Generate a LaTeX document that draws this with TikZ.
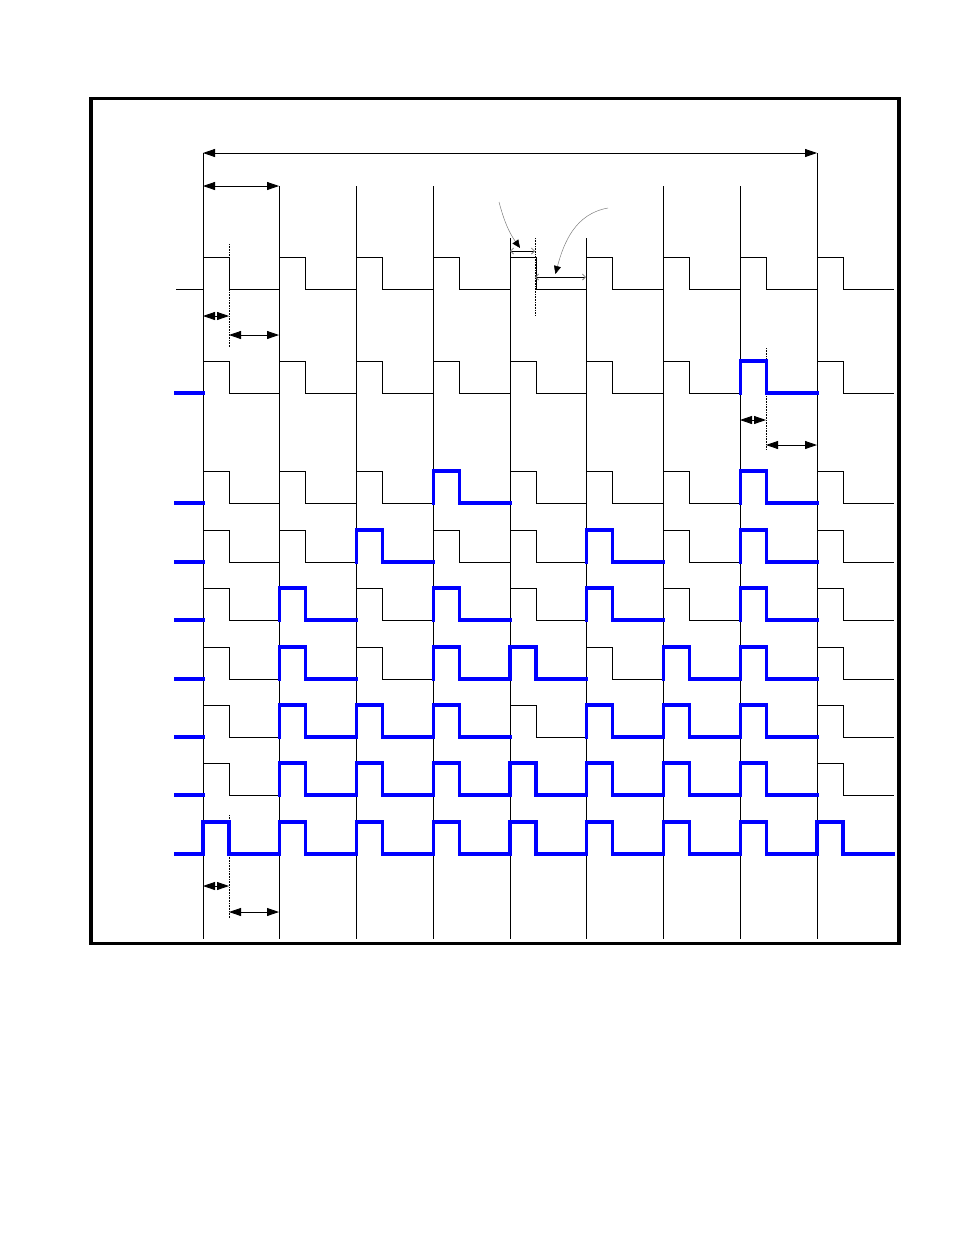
\documentclass[tikz,border=0pt]{standalone}
\usepackage{tikz}
\usetikzlibrary{calc, arrows.meta}
\tikzset{
    frame/.style={draw=black, line width=3.5pt},
    tick/.style={draw=black, line width=0.9pt},
    wave/.style={draw=black, line width=0.9pt},
    active/.style={draw=blue, line width=3.2pt, line cap=rect},
    marker/.style={draw=black, densely dotted, line width=0.6pt},
    dim/.style={{Triangle[length=12pt, width=8pt]}-{Triangle[length=12pt, width=8pt]}, line width=0.8pt},
    fine/.style={{Straight Barb[length=3pt, width=6pt, color=gray]}-{Straight Barb[length=3pt, width=6pt, color=gray]}, line width=0.8pt},
    pointer/.style={-{Triangle[length=8pt, width=7pt, color=black]}, draw=gray, line width=0.5pt}
}
% one clock period: pulse of 26 then low until the next tick
\newcommand{\pulse}[3][wave]{%
    \draw[#1] ({#2},{#3}) -- ++(0,-32) -- ++(26,0) -- ++(0,32) -- ++(50.75,0);}

\begin{document}
\begin{tikzpicture}[x=1pt, y=-1pt]
    \useasboundingbox (0,0) rectangle (954,1235);

    % Frame
    \draw[frame] (91,98.5) rectangle (899,943.5);

    % Ticks
    \foreach \k/\ystart in {0/153, 1/186, 2/186, 3/186, 4/238, 5/238, 6/186, 7/186, 8/153}
        \draw[tick] ({203+76.75*\k},\ystart) -- ({203+76.75*\k},939);

    % Markers
    \draw[marker] (229,244) -- (229,347);
    \draw[marker] (535,238) -- (535,315);
    \draw[marker] (766,348) -- (766,450);
    \draw[marker] (229,815) -- (229,918);

    % Clock
    \draw[wave] (176,289) -- (203,289);
    \foreach \k in {0,...,8} \pulse{203+76.75*\k}{289};

    % Gated rows
    \foreach \y/\hot in {393/{7}, 503/{3,7}, 562/{2,5,7}, 620/{1,3,5,7},
                         679/{1,3,4,6,7}, 737/{1,2,3,5,6,7},
                         795/{1,2,3,4,5,6,7}, 854/{0,1,2,3,4,5,6,7,8}} {
        \foreach \k in {0,...,8} \pulse{203+76.75*\k}{\y};
        \draw[active] (176,\y) -- (203,\y);
        \foreach \k in \hot \pulse[active]{203+76.75*\k}{\y};
    }

    % Dimension points
    \coordinate (spanL) at (203,153);  \coordinate (spanR) at (817,153);
    \coordinate (perL) at (203,186);   \coordinate (perR) at (279,186);
    \coordinate (onL) at (203,316);    \coordinate (onR) at (229,316);
    \coordinate (offL) at (229,335);   \coordinate (offR) at (279,335);
    \coordinate (onLb) at (740,420);   \coordinate (onRb) at (766,420);
    \coordinate (offLb) at (766,445);  \coordinate (offRb) at (817,445);
    \coordinate (onLc) at (203,886);   \coordinate (onRc) at (229,886);
    \coordinate (offLc) at (229,912);  \coordinate (offRc) at (279,912);
    \coordinate (skewL) at (510,251);  \coordinate (skewR) at (535,251);
    \coordinate (restL) at (535,277);  \coordinate (restR) at (586,277);
    \coordinate (tagA) at (499,202);   \coordinate (tagB) at (608,208);

    % Dimensions
    \draw[dim] (spanL) -- (spanR);
    \draw[dim] (perL) -- (perR);
    \draw[dim] (onL) -- (onR);
    \draw[dim] (offL) -- (offR);
    \draw[dim] (onLb) -- (onRb);
    \draw[dim] (offLb) -- (offRb);
    \draw[dim] (onLc) -- (onRc);
    \draw[dim] (offLc) -- (offRc);
    \draw[fine] (skewL) -- (skewR);
    \draw[fine] (restL) -- (restR);

    % Pointers
    \draw[pointer] (tagA) to[out=-75, in=125] ($(skewL)!0.4!(skewR)+(0,-3)$);
    \draw[pointer] (tagB) to[out=190, in=75] ($(restL)!0.4!(restR)+(0,-3)$);
\end{tikzpicture}
\end{document}
